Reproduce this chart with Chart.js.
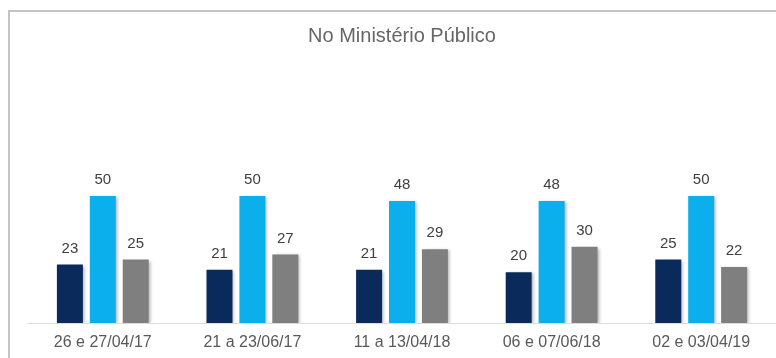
<!DOCTYPE html>
<html>
<head>
<meta charset="utf-8">
<script src="https://cdn.jsdelivr.net/npm/chart.js@4"></script>
<style>
  html, body { margin: 0; padding: 0; background: #fff; }
  #wrap { width: 776px; height: 358px; position: relative; }
</style>
</head>
<body>
<div id="wrap"><canvas id="c" width="776" height="358"></canvas></div>
<script>
// Survey dates
const categories = ['26 e 27/04/17', '21 a 23/06/17', '11 a 13/04/18', '06 e 07/06/18', '02 e 03/04/19'];

// Percentages per answer group
const seriesA = [23, 21, 21, 20, 25];
const seriesB = [50, 50, 48, 48, 50];
const seriesC = [25, 27, 29, 30, 22];

const titleText = 'No Ministério Público';

const FONT = '"Liberation Sans", Arial, Helvetica, sans-serif';

// Light gray frame along the top and left edges
const framePlugin = {
  id: 'frame',
  beforeDraw(chart) {
    const ctx = chart.ctx;
    ctx.save();
    ctx.strokeStyle = '#c4c4c4';
    ctx.lineWidth = 2;
    ctx.beginPath();
    ctx.moveTo(9, chart.height);
    ctx.lineTo(9, 11);
    ctx.lineTo(chart.width, 11);
    ctx.stroke();
    ctx.restore();
  }
};

// Soft drop shadow under each bar
const shadowPlugin = {
  id: 'barShadow',
  beforeDatasetDraw(chart) {
    const ctx = chart.ctx;
    ctx.save();
    ctx.shadowColor = 'rgba(0,0,0,0.28)';
    ctx.shadowBlur = 3;
    ctx.shadowOffsetX = 2;
    ctx.shadowOffsetY = 1;
  },
  afterDatasetDraw(chart) {
    chart.ctx.restore();
  }
};

// Value labels above each bar
const valueLabels = {
  id: 'valueLabels',
  afterDatasetsDraw(chart) {
    const ctx = chart.ctx;
    ctx.save();
    ctx.font = '15px ' + FONT;
    ctx.fillStyle = '#404040';
    ctx.textAlign = 'center';
    ctx.textBaseline = 'middle';
    chart.data.datasets.forEach((ds, i) => {
      chart.getDatasetMeta(i).data.forEach((bar, j) => {
        ctx.fillText(String(ds.data[j]), bar.x, bar.y - 16);
      });
    });
    ctx.restore();
  }
};

new Chart(document.getElementById('c'), {
  type: 'bar',
  data: {
    labels: categories,
    datasets: [
      { data: seriesA, backgroundColor: '#0b2a5c' },
      { data: seriesB, backgroundColor: '#0aafec' },
      { data: seriesC, backgroundColor: '#7f7f7f' }
    ]
  },
  options: {
    responsive: false,
    animation: false,
    devicePixelRatio: 1,
    categoryPercentage: 0.66,
    barPercentage: 0.79,
    layout: { padding: { left: 28, right: 0, top: 0, bottom: 0 } },
    plugins: {
      legend: { display: false },
      tooltip: { enabled: false },
      title: {
        display: true,
        text: titleText,
        color: '#666666',
        font: { family: FONT, size: 20, weight: 'normal' },
        padding: { top: 24, bottom: 21 }
      }
    },
    scales: {
      x: {
        grid: { display: false, drawTicks: false },
        border: { display: true, color: '#dcdcdc', width: 1 },
        ticks: {
          color: '#595959',
          font: { family: FONT, size: 16 },
          padding: 10,
          maxRotation: 0
        },
        afterFit(scale) { scale.height = 35; }
      },
      y: {
        display: false,
        min: 0,
        max: 100
      }
    }
  },
  plugins: [framePlugin, shadowPlugin, valueLabels]
});
</script>
</body>
</html>
